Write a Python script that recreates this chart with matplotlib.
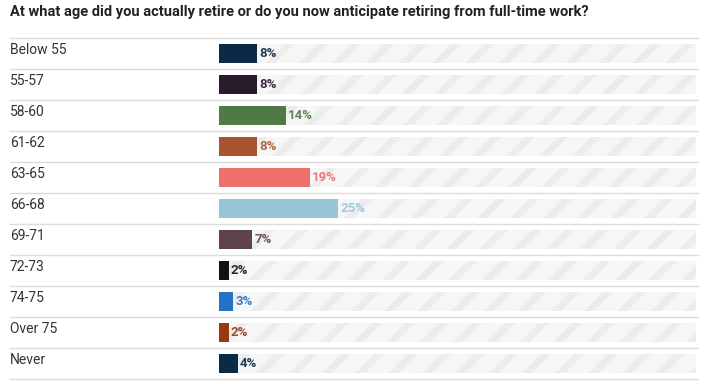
import matplotlib
matplotlib.use("Agg")
import matplotlib.pyplot as plt
import matplotlib.transforms as mtransforms

plt.rcParams['font.family'] = ['Roboto', 'DejaVu Sans']
plt.rcParams['hatch.linewidth'] = 5
plt.rcParams['hatch.color'] = '#ececec'

# data
title = "At what age did you actually retire or do you now anticipate retiring from full-time work?"
ages = ["Below 55", "55-57", "58-60", "61-62", "63-65", "66-68",
        "69-71", "72-73", "74-75", "Over 75", "Never"]
pct = [8, 8, 14, 8, 19, 25, 7, 2, 3, 2, 4]
colors = ["#0b2a45", "#2a1a2e", "#4f7a45", "#a8532f", "#ef6f6c", "#96c6d6",
          "#5e434a", "#111111", "#2373c4", "#973a12", "#0b2a45"]

fig = plt.figure(figsize=(7.08, 3.84), dpi=100)
ax = fig.add_axes([219 / 708, 1 - 379 / 384, 477 / 708, 341 / 384])
ax.set_xlim(0, 100)
ax.set_ylim(len(ages), 0)
ax.axis('off')

y = [i + 0.5 for i in range(len(ages))]

# striped background tracks
ax.barh(y, [100] * len(ages), height=0.64, color='#f6f6f6', hatch='/',
        edgecolor='#ececec', linewidth=0)
ax.barh(y, pct, height=0.64, color=colors, linewidth=0)

trans = mtransforms.blended_transform_factory(fig.transFigure, ax.transData)
for i in range(len(ages) + 1):
    ax.plot([10 / 708, 698 / 708], [i, i], color='#dcdcdc', lw=1,
            transform=trans, clip_on=False)

for yy, name, v, c in zip(y, ages, pct, colors):
    ax.text(10 / 708, yy - 0.1, name, transform=trans, ha='left', va='center',
            fontsize=10, color='#333333')
    ax.text(v + 0.4, yy, f"{v}%", ha='left', va='center', fontsize=9.5,
            fontweight='bold', color=c, alpha=0.9)

fig.text(10 / 708, 1 - 12 / 384, title, ha='left', va='center',
         fontsize=10.5, fontweight='bold', color='#222222')

fig.savefig("out.png", dpi=100)
